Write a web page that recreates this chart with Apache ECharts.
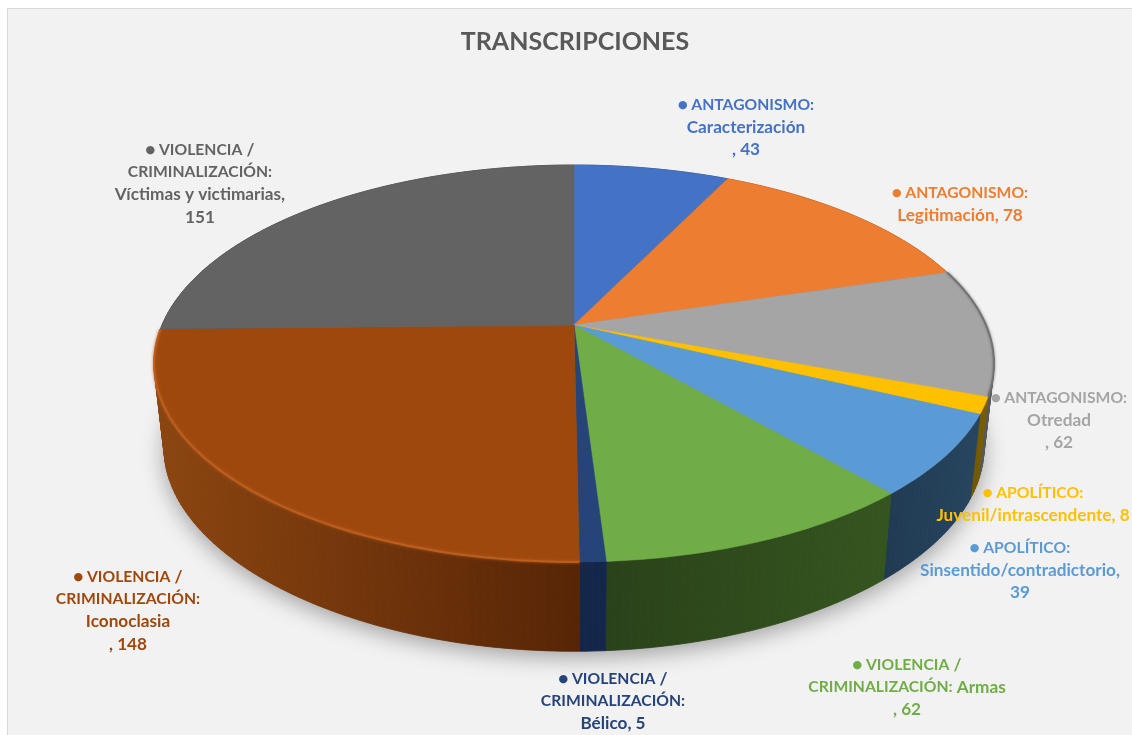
<!DOCTYPE html>
<html>
<head>
<meta charset="utf-8">
<style>
html,body{margin:0;padding:0;background:#fff;}
#panel{position:absolute;left:7px;top:8px;width:1125px;height:727px;background:#f2f2f2;border-left:1px solid #d9d9d9;border-top:1px solid #d9d9d9;box-sizing:border-box;}
#chart{position:absolute;left:0;top:0;width:1132px;height:735px;}
</style>
<script src="https://cdn.jsdelivr.net/npm/echarts@6/dist/echarts.min.js"></script>
</head>
<body>
<div id="panel"></div>
<div id="chart"></div>
<script>
const titleText = 'TRANSCRIPCIONES';
const categories = [
  'ANTAGONISMO:\nCaracterización',
  'ANTAGONISMO:\nLegitimación',
  'ANTAGONISMO:\nOtredad',
  'APOLÍTICO:\nJuvenil/intrascendente',
  'APOLÍTICO:\nSinsentido/contradictorio',
  'VIOLENCIA /\nCRIMINALIZACIÓN: Armas',
  'VIOLENCIA /\nCRIMINALIZACIÓN:\nBélico',
  'VIOLENCIA /\nCRIMINALIZACIÓN:\nIconoclasia',
  'VIOLENCIA /\nCRIMINALIZACIÓN:\nVíctimas y victimarias'
];
const values = [43, 78, 62, 8, 39, 62, 5, 148, 151];
const valueSeparators = ['\n, ', ', ', '\n, ', ', ', ',\n', '\n, ', ', ', '\n, ', ',\n'];
const topColors = ['#4472C4','#ED7D31','#A5A5A5','#FFC000','#5B9BD5','#70AD47','#264478','#9E480E','#636363'];
const wallFrom = ['#2a4578','#8f4c1e','#5a5a5a','#7d6000','#27455f','#35551f','#14274a','#8c4510','#3c3c3c'];
const wallTo   = ['#2a4578','#8f4c1e','#4a4a4a','#6d5400','#203a52','#2a421a','#14274a','#572506','#3c3c3c'];
const rimColors = [null,null,'#6f6f6f',null,null,null,null,'#c0601f',null];
const labelCenters = [[746,105],[960,193],[1059,398],[1033,493],[1020,548],[907,665],[613,679],[128,577],[200,150]];

const total = values.reduce((a,b)=>a+b,0);
const PIE = {cx:574, cy:325, A:412, B:191, k:0.194, scaleX:0.976, lowCy:411, lowB:185, lowK:0.23};
const STEP = Math.PI/180;

function topPt(a){
  const u=Math.sin(a), v=-Math.cos(a), w=1-PIE.k*v;
  return [PIE.cx+PIE.A*u/w, PIE.cy+PIE.B*v/w];
}
function lowPt(a){
  const u=Math.sin(a), v=-Math.cos(a);
  return [PIE.cx+PIE.scaleX*PIE.A*u/(1-PIE.k*v), PIE.lowCy+PIE.lowB*v/(1-PIE.lowK*v)];
}
function span(i){
  let s=0; for(let j=0;j<i;j++) s+=values[j];
  return [s/total*2*Math.PI,(s+values[i])/total*2*Math.PI];
}
function arc(fn,a0,a1){
  const n=Math.max(2,Math.ceil((a1-a0)/STEP)), pts=[];
  for(let i=0;i<=n;i++) pts.push(fn(a0+(a1-a0)*i/n));
  return pts;
}
function renderShadow(){
  return {type:'polygon',shape:{points:arc(lowPt,0,2*Math.PI)},
    style:{fill:'#888',shadowColor:'rgba(0,0,0,0.34)',shadowBlur:22,shadowOffsetX:0,shadowOffsetY:6}};
}
function renderWall(params,api){
  const i=params.dataIndex, [a0,a1]=span(i);
  const t=arc(topPt,a0,a1), b=arc(lowPt,a0,a1);
  const xs=t.concat(b).map(p=>p[0]);
  const xa=Math.min(...xs), xb=Math.max(...xs);
  const leftToRight=(a0+a1)/2<Math.PI;
  const fill={type:'linear',global:true,x:xa,y:0,x2:xb,y2:0,colorStops:[
    {offset:0,color:leftToRight?wallTo[i]:wallFrom[i]},
    {offset:1,color:leftToRight?wallFrom[i]:wallTo[i]}]};
  const children=[];
  for(let n=0;n<t.length-1;n++){
    children.push({type:'polygon',shape:{points:[t[n],t[n+1],b[n+1],b[n]]},
      style:{fill:fill,stroke:fill,lineWidth:0.8}});
  }
  return {type:'group',children};
}
function renderTop(params,api){
  const i=params.dataIndex, [a0,a1]=span(i);
  const pts=[[PIE.cx,PIE.cy]].concat(arc(topPt,a0,a1));
  const children=[{type:'polygon',shape:{points:pts},style:{fill:topColors[i],stroke:topColors[i],lineWidth:0.5}}];
  if(rimColors[i]){
    children.push({type:'polyline',shape:{points:arc(topPt,a0,a1)},
      style:{fill:'none',stroke:rimColors[i],lineWidth:2,opacity:0.85,shadowColor:rimColors[i],shadowBlur:3}});
  }
  return {type:'group',children};
}
function tokenize(line){
  return line.split(/(\s+)/).filter(s=>s.length).map(w=>{
    const caps=/[A-ZÁÉÍÓÚÑ]/.test(w)&&!/[a-záéíóúñ]/.test(w);
    return (caps?'{t|':'{l|')+w+'}';
  }).join('');
}
function labelText(i){
  const lines=(categories[i]+valueSeparators[i]+values[i]).split('\n');
  return lines.map((l,n)=>n===0?'{d|●} '+tokenize(l):tokenize(l)).join('\n');
}
function renderLabel(params){
  const i=params.dataIndex, c=labelCenters[i], col=topColors[i];
  const base={fontFamily:'Lato',fontWeight:'bold',lineHeight:22.4,fill:col};
  return {type:'text',x:c[0],y:c[1]-11.2,style:{
    text:labelText(i),align:'center',verticalAlign:'top',
    fontFamily:'Lato',fontWeight:'bold',fontSize:15.7,lineHeight:22.4,fill:col,
    rich:{t:Object.assign({fontSize:15.7},base),l:Object.assign({fontSize:17.2},base),
      d:{fontFamily:'DejaVu Sans',fontSize:11,lineHeight:22.4,fill:col}}}};
}
const chart=echarts.init(document.getElementById('chart'));
chart.setOption({
  animation:false,
  backgroundColor:'transparent',
  title:{text:titleText,left:570,top:24,textAlign:'center',
    textStyle:{fontFamily:'Lato',fontWeight:'bold',fontSize:25,color:'#595959'}},
  series:[
    {type:'custom',coordinateSystem:'none',silent:true,data:[0],renderItem:renderShadow,z:1},
    {type:'custom',coordinateSystem:'none',silent:true,data:values,renderItem:renderWall,z:2},
    {type:'custom',coordinateSystem:'none',silent:true,data:values,renderItem:renderTop,z:3},
    {type:'custom',coordinateSystem:'none',silent:true,data:values,renderItem:renderLabel,z:4}
  ]
});
</script>
</body>
</html>
